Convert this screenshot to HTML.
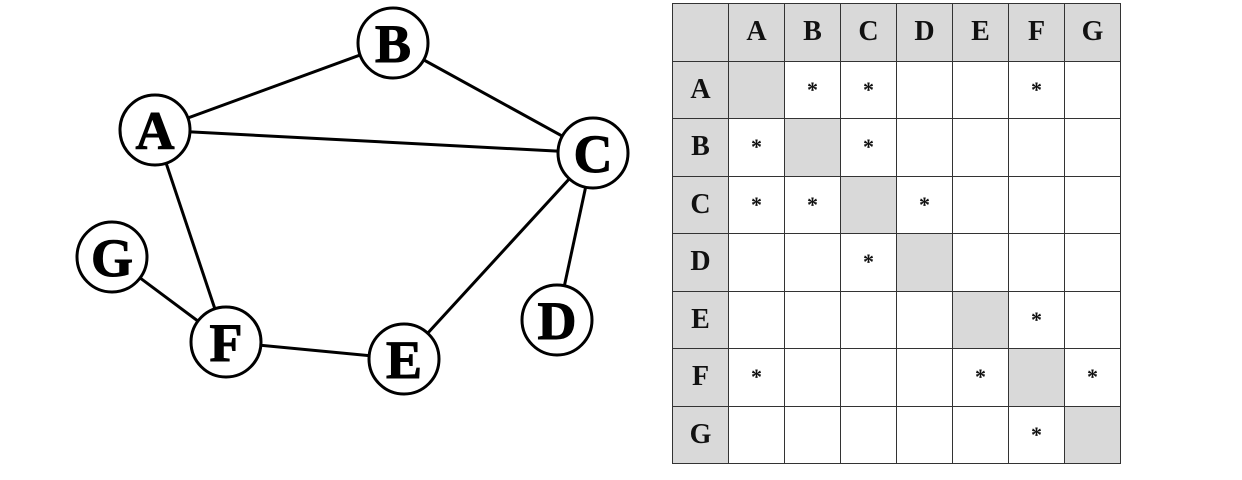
<!DOCTYPE html>
<html><head><style>
body{margin:0;width:1242px;height:480px;background:#fff;overflow:hidden;position:relative;font-family:"Liberation Serif",serif}
svg{position:absolute;left:0;top:0}
table{position:absolute;left:672px;top:3px;border-collapse:collapse}
td{width:55px;height:56.5px;border:1.5px solid #333;padding:0;text-align:center;font-size:22px;font-weight:bold;color:#111}
td.h{background:#d9d9d9;font-size:28px}
td.d{background:#d9d9d9}
</style></head><body>
<svg width="660" height="480" font-family="Liberation Serif" font-weight="bold" font-size="54">
<g stroke="#000" stroke-width="3">
<line x1="155" y1="130" x2="393" y2="43"/>
<line x1="393" y1="43" x2="593" y2="153"/>
<line x1="155" y1="130" x2="593" y2="153"/>
<line x1="155" y1="130" x2="226" y2="342"/>
<line x1="112" y1="257" x2="226" y2="342"/>
<line x1="226" y1="342" x2="404" y2="359"/>
<line x1="404" y1="359" x2="593" y2="153"/>
<line x1="593" y1="153" x2="557" y2="320"/>
</g>
<g fill="#fff" stroke="#000" stroke-width="3">
<circle cx="393" cy="43" r="35"/><circle cx="155" cy="130" r="35"/><circle cx="593" cy="153" r="35"/>
<circle cx="112" cy="257" r="35"/><circle cx="226" cy="342" r="35"/><circle cx="404" cy="359" r="35"/><circle cx="557" cy="320" r="35"/>
</g>
<g text-anchor="middle" stroke="#000" stroke-width="1">
<text x="393" y="62">B</text><text x="155" y="149">A</text><text x="593" y="172">C</text>
<text x="112" y="276">G</text><text x="226" y="361">F</text><text x="404" y="378">E</text><text x="557" y="339">D</text>
</g>
</svg>
<table>
<tr><td class="h"></td><td class="h">A</td><td class="h">B</td><td class="h">C</td><td class="h">D</td><td class="h">E</td><td class="h">F</td><td class="h">G</td></tr>
<tr><td class="h">A</td><td class="d"></td><td>*</td><td>*</td><td></td><td></td><td>*</td><td></td></tr>
<tr><td class="h">B</td><td>*</td><td class="d"></td><td>*</td><td></td><td></td><td></td><td></td></tr>
<tr><td class="h">C</td><td>*</td><td>*</td><td class="d"></td><td>*</td><td></td><td></td><td></td></tr>
<tr><td class="h">D</td><td></td><td></td><td>*</td><td class="d"></td><td></td><td></td><td></td></tr>
<tr><td class="h">E</td><td></td><td></td><td></td><td></td><td class="d"></td><td>*</td><td></td></tr>
<tr><td class="h">F</td><td>*</td><td></td><td></td><td></td><td>*</td><td class="d"></td><td>*</td></tr>
<tr><td class="h">G</td><td></td><td></td><td></td><td></td><td></td><td>*</td><td class="d"></td></tr>
</table>
</body></html>
